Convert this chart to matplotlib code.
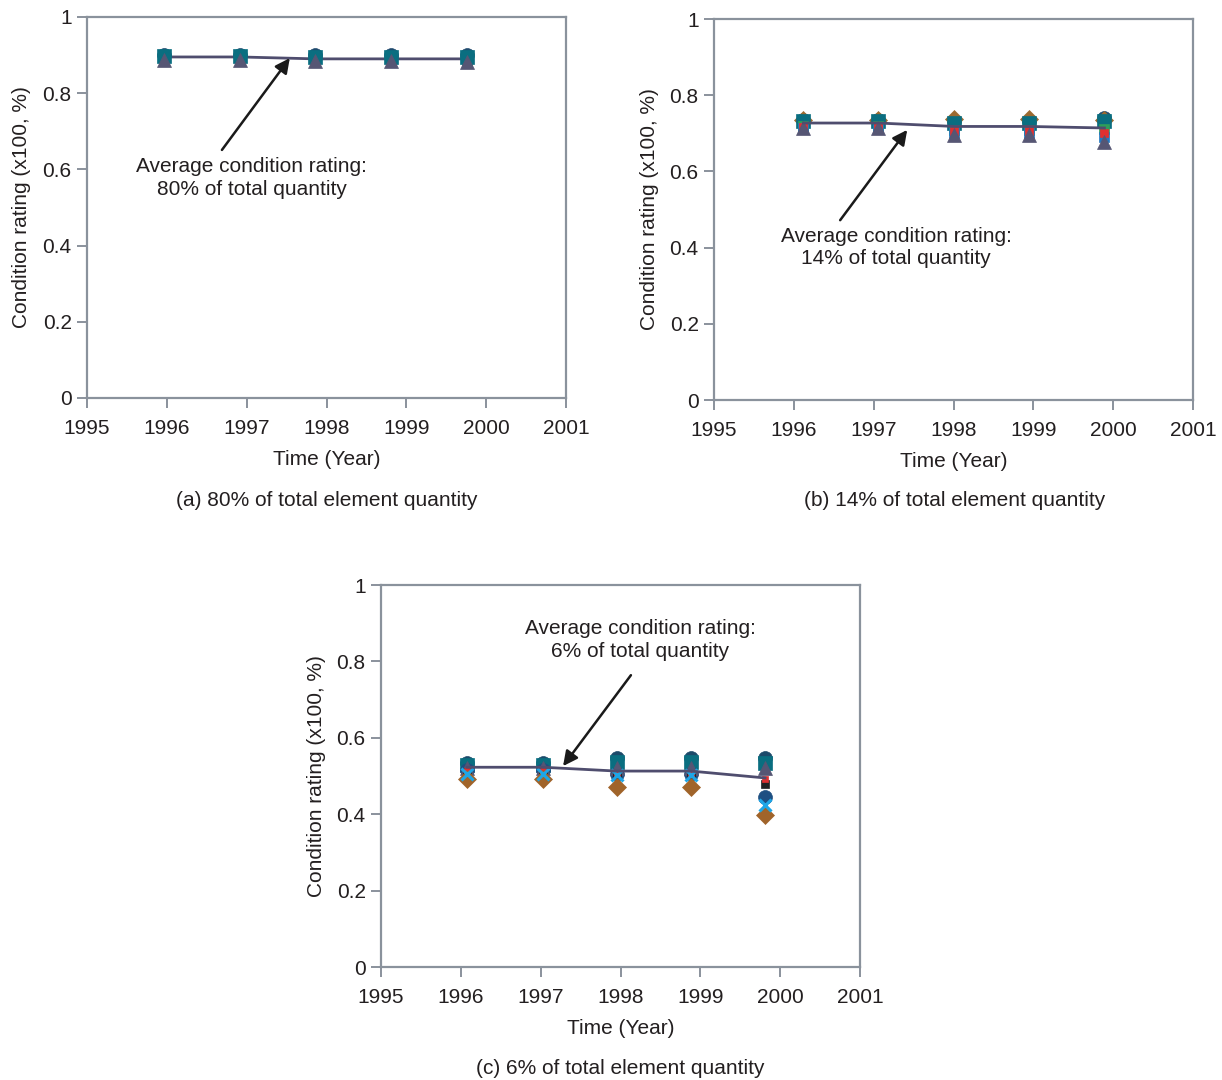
import matplotlib.pyplot as plt

plt.rcParams['font.family'] = ['Liberation Sans', 'DejaVu Sans']

# observation times (years) for each panel
years_a = [1995.96, 1996.92, 1997.86, 1998.81, 1999.76]
years_b = [1996.12, 1997.06, 1998.01, 1998.95, 1999.89]
years_c = [1996.08, 1997.03, 1997.95, 1998.88, 1999.81]

# average condition rating (line)
avg_a = [0.895, 0.895, 0.890, 0.890, 0.890]
avg_b = [0.727, 0.727, 0.718, 0.718, 0.714]
avg_c = [0.523, 0.523, 0.513, 0.513, 0.495]

# individual element condition ratings (scatter clusters)
# panel (a)
a_circle = [0.899, 0.899, 0.900, 0.900, 0.900]
a_square = [0.897, 0.897, 0.896, 0.896, 0.896]
a_green = [0.888, 0.888, 0.886, 0.886, 0.884]
a_red = [0.883, 0.883, 0.879, 0.879, 0.875]
a_tri = [0.887, 0.887, 0.884, 0.884, 0.881]

# panel (b)
b_diamond = [0.735, 0.735, 0.738, 0.738, 0.735]
b_circle = [0.736, 0.736, 0.732, 0.732, 0.740]
b_square = [0.733, 0.733, 0.728, 0.728, 0.733]
b_green = [0.718, 0.718, 0.708, 0.708, 0.712]
b_red = [0.716, 0.716, 0.705, 0.705, 0.700]
b_blue = [0.714, 0.714, 0.700, 0.700, 0.690]
b_tri = [0.713, 0.713, 0.695, 0.695, 0.678]

# panel (c)
c_circle = [0.535, 0.535, 0.548, 0.548, 0.548]
c_square = [0.530, 0.530, 0.537, 0.537, 0.533]
c_tri = [0.520, 0.520, 0.522, 0.522, 0.522]
c_red = [0.512, 0.512, 0.508, 0.508, 0.492]
c_black = [0.510, 0.510, 0.505, 0.505, 0.480]
c_navy = [0.515, 0.515, 0.505, 0.505, 0.445]
c_x = [0.506, 0.506, 0.502, 0.502, 0.425]
c_diamond = [0.492, 0.492, 0.470, 0.470, 0.398]

spine_col = '#8a929c'
text_col = '#231f20'
line_col = '#4f4d6e'
fs = 15

fig = plt.figure(figsize=(12.22, 10.8), dpi=100)


def setup(ax):
    ax.set_xlim(1995, 2001)
    ax.set_ylim(0, 1)
    ax.set_xticks([1995, 1996, 1997, 1998, 1999, 2000, 2001])
    ax.set_yticks([0, 0.2, 0.4, 0.6, 0.8, 1])
    ax.set_yticklabels(['0', '0.2', '0.4', '0.6', '0.8', '1'])
    for s in ax.spines.values():
        s.set_color(spine_col)
        s.set_linewidth(1.6)
    ax.tick_params(direction='out', length=7, width=1.4, color=spine_col,
                   labelsize=fs, labelcolor=text_col, pad=4)
    ax.tick_params(axis='x', pad=8)
    ax.set_xlabel('Time (Year)', fontsize=fs, color=text_col, labelpad=9)
    ax.set_ylabel('Condition rating (x100, %)', fontsize=fs, color=text_col, labelpad=8)


def cluster(ax, x, series):
    for vals, m, c, ms in series:
        ax.plot(x, vals, linestyle='none', marker=m, color=c, ms=ms,
                mec=c, mew=2.2 if m == 'x' else 0.5, zorder=3)


ax_a = fig.add_axes([0.0712, 0.6315, 0.392, 0.3528])
ax_b = fig.add_axes([0.5843, 0.6296, 0.392, 0.3528])
ax_c = fig.add_axes([0.3118, 0.1046, 0.392, 0.3537])

for ax in (ax_a, ax_b, ax_c):
    setup(ax)

cluster(ax_a, years_a, [
    (a_red, 's', '#b03a2e', 5),
    (a_green, 's', '#2e9e5a', 7),
    (a_circle, 'o', '#1f4a6e', 10),
    (a_square, 's', '#0a6e80', 10),
    (a_tri, '^', '#565674', 10),
])
ax_a.plot(years_a, avg_a, color=line_col, lw=2, zorder=2)

cluster(ax_b, years_b, [
    (b_circle, 'o', '#1f4a6e', 10),
    (b_diamond, 'D', '#9c6a30', 9),
    (b_square, 's', '#0a6e80', 10),
    (b_green, 's', '#2e9e5a', 7),
    (b_blue, 's', '#2277c0', 7),
    (b_red, 's', '#e03030', 6),
    (b_tri, '^', '#565674', 10),
])
ax_b.plot(years_b, avg_b, color=line_col, lw=2, zorder=4)

cluster(ax_c, years_c, [
    (c_circle, 'o', '#1c4a6a', 10),
    (c_square, 's', '#0a6e80', 10),
    (c_navy, 'o', '#1e4f82', 10),
    (c_tri, '^', '#565674', 10),
    (c_black, 's', '#222222', 6),
    (c_red, 's', '#e03030', 5),
    (c_diamond, 'D', '#a0642a', 9),
    (c_x, 'x', '#1ea6e6', 9),
])
ax_c.plot(years_c, avg_c, color=line_col, lw=2, zorder=4)

arrow = dict(arrowstyle='-|>', color='#1a1a1a', lw=1.8, mutation_scale=22,
             shrinkA=0, shrinkB=0)
ax_a.annotate('', xy=(1997.54, 0.892), xytext=(1996.69, 0.651), arrowprops=arrow)
ax_a.text(1997.06, 0.577, 'Average condition rating:\n80% of total quantity',
          ha='center', va='center', fontsize=fs, color=text_col, linespacing=1.25)

ax_b.annotate('', xy=(1997.42, 0.709), xytext=(1996.58, 0.472), arrowprops=arrow)
ax_b.text(1997.28, 0.40, 'Average condition rating:\n14% of total quantity',
          ha='center', va='center', fontsize=fs, color=text_col, linespacing=1.25)

ax_c.annotate('', xy=(1997.28, 0.526), xytext=(1998.13, 0.764), arrowprops=arrow)
ax_c.text(1998.25, 0.856, 'Average condition rating:\n6% of total quantity',
          ha='center', va='center', fontsize=fs, color=text_col, linespacing=1.25)

fig.text(327 / 1222, 1 - 500 / 1080, '(a) 80% of total element quantity',
         ha='center', va='center', fontsize=fs, color=text_col)
fig.text(955 / 1222, 1 - 500 / 1080, '(b) 14% of total element quantity',
         ha='center', va='center', fontsize=fs, color=text_col)
fig.text(620 / 1222, 1 - 1068 / 1080, '(c) 6% of total element quantity',
         ha='center', va='center', fontsize=fs, color=text_col)

fig.savefig('out.png', dpi=100)
